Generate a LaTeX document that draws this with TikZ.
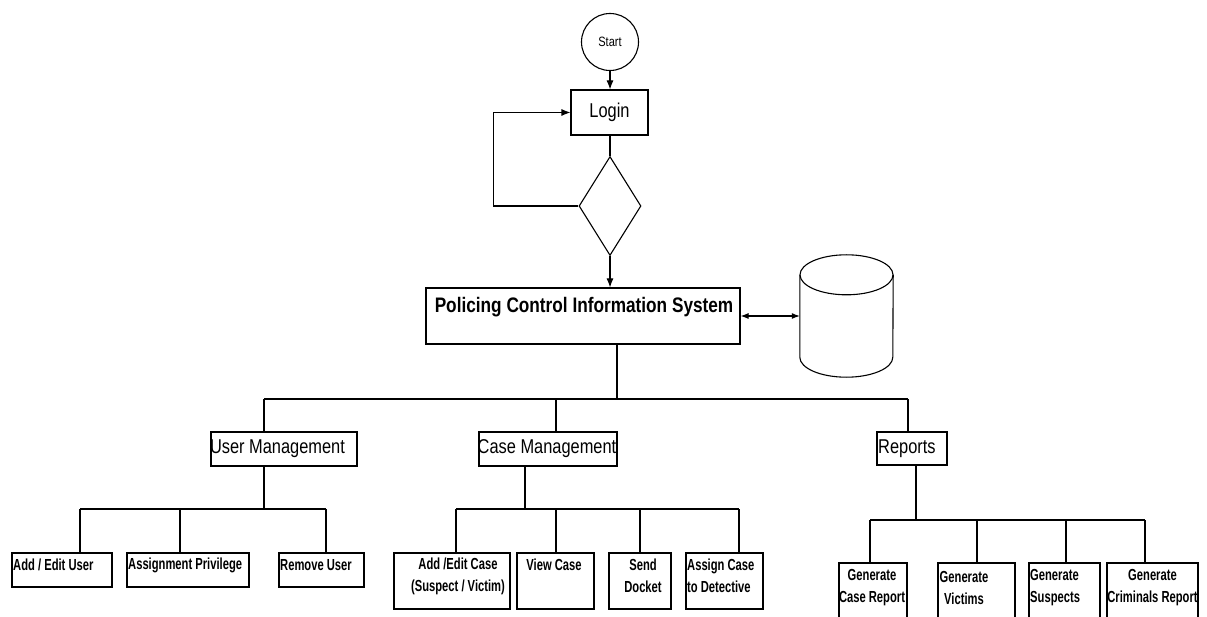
\documentclass[tikz,border=0pt]{standalone}
\usepackage{fontspec}
\setmainfont{Liberation Sans}
\newfontfamily\bigf[FakeStretch=0.82]{Liberation Sans}
\newfontfamily\leaff[FakeStretch=0.70]{Liberation Sans}
\usetikzlibrary{shapes.geometric,arrows.meta,calc}
\begin{document}
\begin{tikzpicture}[x=1pt,y=-1pt,
  box/.style={draw, line width=1.1pt, inner sep=0pt, rectangle},
  ln/.style={line width=1.1pt},
  arr/.style={line width=1.1pt, -{Latex[length=9pt,width=7pt]}},
  big/.style={font=\bigf\fontsize{20}{24}\selectfont, inner sep=0pt},
  lf/.style={font=\leaff\bfseries\fontsize{16}{22}\selectfont, inner sep=0pt},
]
\useasboundingbox (0,0) rectangle (1207,617);
\fill[white] (0,0) rectangle (1207,617);

% top flow
\node[box, circle, minimum size=57pt, font=\bigf\fontsize{13.5}{16}\selectfont] (start) at (610,42) {Start};
\node[box, minimum width=77pt, minimum height=45pt, big] (login) at (609.5,112.5) {Login};
\node[draw, diamond, line width=1.1pt, minimum width=62pt, minimum height=99pt, inner sep=0pt] (dec) at (610,206) {};
\node[box, minimum width=314pt, minimum height=56pt] (pcis) at (583,316) {};
\node[font=\bigf\bfseries\fontsize{21}{24}\selectfont, inner sep=0pt] (pcist) at (584,307) {Policing Control Information System};

\draw[arr] (start.south) -- (login.north -| start.south);
\draw[ln] (login.south -| dec.north) -- (dec.north);
\draw[arr] (dec.west) -- ++(-85,0) |- (login.west);
\draw[arr] (dec.south) -- (dec.south |- pcis.north);

% database
\node[minimum width=93pt, minimum height=122pt, inner sep=0pt] (db) at (846.5,316) {};
\draw[ln] ($(db.north west)+(0,20)$) -- ($(db.south west)+(0,-20)$)
   arc[start angle=180, end angle=0, x radius=46.5, y radius=20]
   -- ($(db.north east)+(0,20)$);
\draw[ln] ($(db.north)+(0,20)$) ellipse [x radius=46.5, y radius=20];
\draw[line width=1.1pt, {Latex[length=8pt,width=6pt]}-{Latex[length=8pt,width=6pt]}] (pcis.east) -- (db.west);

% main bus
\coordinate (b0) at (617,399);
\coordinate (bL) at (264,399);
\coordinate (bC) at (556,399);
\coordinate (bR) at (908,399);
\draw[ln] (pcis.south -| b0) -- (b0);
\draw[ln] (bL) -- (bR);

% second level
\node[box, minimum width=146pt, minimum height=34pt] (um) at (284,449) {};
\node[big] (umt) at (277.5,449) {User Management};
\node[box, minimum width=138pt, minimum height=34pt] (cm) at (548,449) {};
\node[big] (cmt) at (547,449) {Case Management};
\node[box, minimum width=70pt, minimum height=33pt] (rp) at (912,448.5) {};
\node[big, anchor=west] (rpt) at (878,448.5) {Reports};

\draw[ln] (bL) -- (bL |- um.north);
\draw[ln] (bC) -- (bC |- cm.north);
\draw[ln] (bR) -- (bR |- rp.north);

% user management leaves
\coordinate (u0) at (264,509);
\coordinate (uL) at (80,509);
\coordinate (uM) at (180,509);
\coordinate (uR) at (326,509);
\draw[ln] (um.south -| u0) -- (u0);
\draw[ln] (uL) -- (uR);
\node[box, minimum width=100pt, minimum height=34pt] (au) at (62,570) {};
\node[box, minimum width=122pt, minimum height=34pt] (ap) at (188,570) {};
\node[box, minimum width=85pt, minimum height=34pt] (ru) at (321.5,570) {};
\draw[ln] (uL) -- (uL |- au.north);
\draw[ln] (uM) -- (uM |- ap.north);
\draw[ln] (uR) -- (uR |- ru.north);
\node[lf, anchor=west] (aut) at (13,565) {Add / Edit User};
\node[lf, anchor=west] (apt) at (128,565) {Assignment Privilege};
\node[lf, anchor=west] (rut) at (280,565) {Remove User};

% case management leaves
\coordinate (c0) at (525,509);
\coordinate (c1) at (456,509);
\coordinate (c2) at (556,509);
\coordinate (c3) at (640,509);
\coordinate (c4) at (739,509);
\draw[ln] (cm.south -| c0) -- (c0);
\draw[ln] (c1) -- (c4);
\node[box, minimum width=116pt, minimum height=56pt] (ac) at (452,581) {};
\node[box, minimum width=77pt, minimum height=56pt] (vc) at (555.5,581) {};
\node[box, minimum width=62pt, minimum height=56pt] (sd) at (640,581) {};
\node[box, minimum width=77pt, minimum height=56pt] (asg) at (724.5,581) {};
\draw[ln] (c1) -- (c1 |- ac.north);
\draw[ln] (c2) -- (c2 |- vc.north);
\draw[ln] (c3) -- (c3 |- sd.north);
\draw[ln] (c4) -- (c4 |- asg.north);
\node[lf, align=center] (act) at (458,576) {Add /Edit Case\\(Suspect / Victim)};
\node[lf] (vct) at (554,565) {View Case};
\node[lf, align=center] (sdt) at (643,576) {Send\\Docket};
\node[lf, align=left, anchor=west] (asgt) at (687,576) {Assign Case\\to Detective};

% reports leaves
\coordinate (r0) at (916,520);
\coordinate (r1) at (870,520);
\coordinate (r2) at (977,520);
\coordinate (r3) at (1066,520);
\coordinate (r4) at (1145,520);
\draw[ln] (rp.south -| r0) -- (r0);
\draw[ln] (r1) -- (r4);
\node[box, minimum width=68pt, minimum height=80pt] (gcr) at (873,603) {};
\node[box, minimum width=77pt, minimum height=80pt] (gv) at (976.5,603) {};
\node[box, minimum width=71pt, minimum height=80pt] (gs) at (1064.5,603) {};
\node[box, minimum width=91pt, minimum height=80pt] (gc) at (1152.5,603) {};
\draw[ln] (r1) -- (r1 |- gcr.north);
\draw[ln] (r2) -- (r2 |- gv.north);
\draw[ln] (r3) -- (r3 |- gs.north);
\draw[ln] (r4) -- (r4 |- gc.north);
\node[lf, align=center] (gcrt) at (872,587.5) {Generate\\Case Report};
\node[lf, align=center] (gvt) at (964,587.5) {Generate\\Victims};
\node[lf, align=left, anchor=west] (gst) at (1030,587.5) {Generate\\Suspects};
\node[lf, align=center] (gct) at (1152.5,587.5) {Generate\\Criminals Report};
\end{tikzpicture}
\end{document}
